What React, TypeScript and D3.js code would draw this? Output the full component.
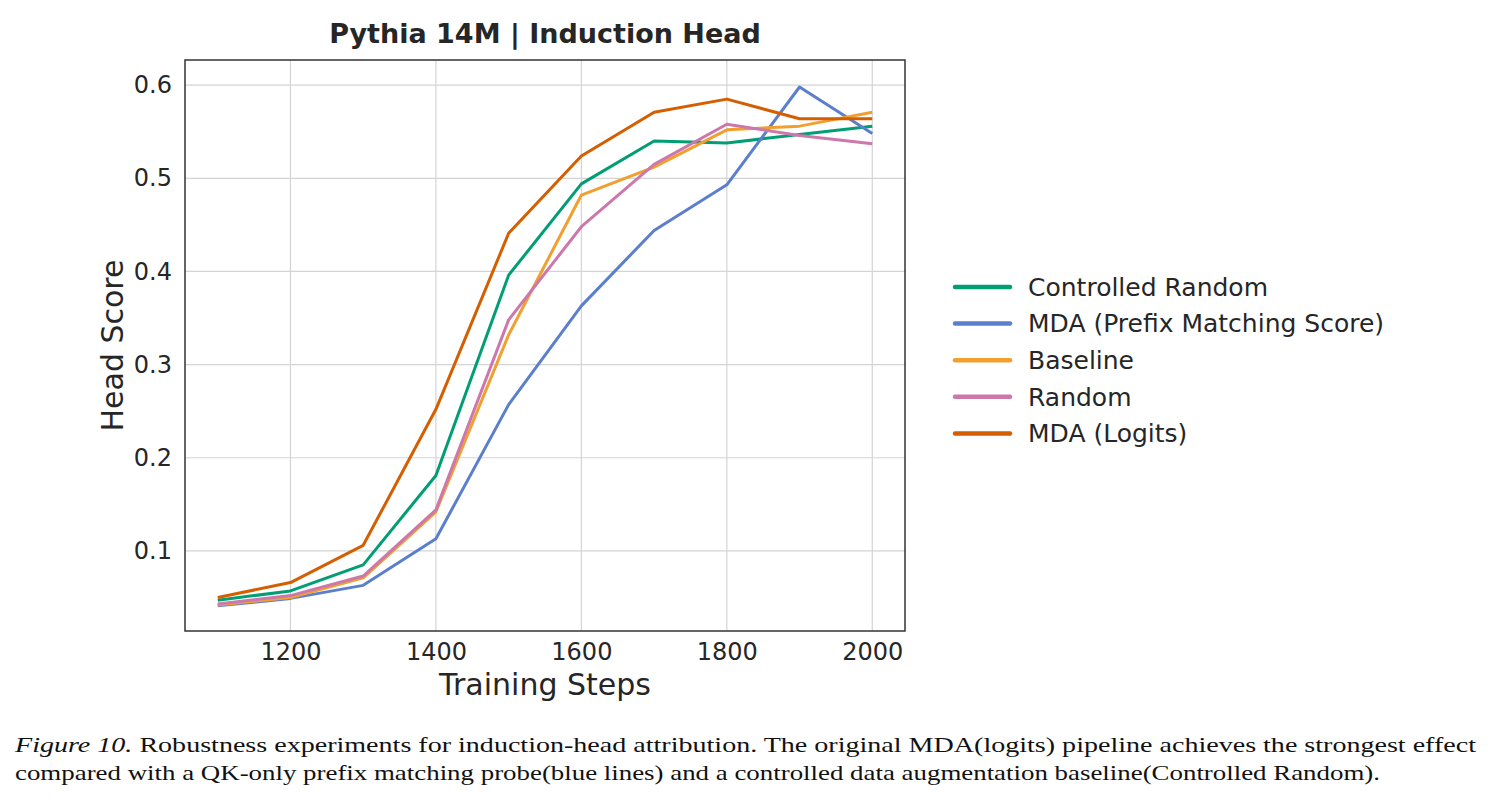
import { useEffect, useRef } from 'react';
import * as d3 from 'd3';

const W = 1491
const H = 805
// plot frame in page pixels
const margin = { top: 60, right: 586, bottom: 174, left: 185 }
const width = W - margin.left - margin.right
const height = H - margin.top - margin.bottom

const steps = [1100, 1200, 1300, 1400, 1500, 1600, 1700, 1800, 1900, 2000]
const controlledRandom = [0.047, 0.057, 0.085, 0.181, 0.396, 0.494, 0.540, 0.538, 0.547, 0.556]
const mdaPrefix = [0.041, 0.049, 0.063, 0.113, 0.257, 0.363, 0.444, 0.493, 0.598, 0.548]
const baseline = [0.042, 0.050, 0.071, 0.142, 0.332, 0.482, 0.512, 0.552, 0.556, 0.571]
const random = [0.043, 0.052, 0.073, 0.144, 0.348, 0.448, 0.515, 0.558, 0.546, 0.537]
const mdaLogits = [0.050, 0.066, 0.106, 0.252, 0.441, 0.524, 0.571, 0.585, 0.564, 0.564]

const xTicks = [1200, 1400, 1600, 1800, 2000]
const yTicks = [0.1, 0.2, 0.3, 0.4, 0.5, 0.6]

const series = [
  { name: 'Controlled Random', values: controlledRandom, color: '#029e73' },
  { name: 'MDA (Prefix Matching Score)', values: mdaPrefix, color: '#5b7fcd' },
  { name: 'Baseline', values: baseline, color: '#f1a02f' },
  { name: 'Random', values: random, color: '#cc78ac' },
  { name: 'MDA (Logits)', values: mdaLogits, color: '#d55e00' },
]

const font = 'DejaVu Sans, sans-serif'

const App = () => {
  const d3svg = useRef(null)

  useEffect(() => {
    if (!d3svg.current) return
    const root = d3.select(d3svg.current)
    root.selectAll('*').remove()

    const xScale = d3.scaleLinear().domain([1055, 2045]).range([0, width])
    const yScale = d3.scaleLinear().domain([0.014, 0.627]).range([height, 0])

    const svg = root.append('g').attr('transform', `translate(${margin.left}, ${margin.top})`)

    // grid
    svg.append('g')
      .selectAll('line')
      .data(xTicks)
      .enter()
      .append('line')
      .attr('x1', d => xScale(d)).attr('x2', d => xScale(d))
      .attr('y1', 0).attr('y2', height)
      .attr('stroke', '#d4d4d4').attr('stroke-width', 1.2)
    svg.append('g')
      .selectAll('line')
      .data(yTicks)
      .enter()
      .append('line')
      .attr('y1', d => yScale(d)).attr('y2', d => yScale(d))
      .attr('x1', 0).attr('x2', width)
      .attr('stroke', '#d4d4d4').attr('stroke-width', 1.2)

    // tick labels
    const xAxis = d3.axisBottom(xScale).tickValues(xTicks).tickSize(0).tickPadding(12).tickFormat(d3.format('d'))
    const gx = svg.append('g').attr('transform', `translate(0,${height})`).call(xAxis)
    const yAxis = d3.axisLeft(yScale).tickValues(yTicks).tickSize(0).tickPadding(13).tickFormat(d3.format('.1f'))
    const gy = svg.append('g').call(yAxis)
    ;[gx, gy].forEach(g => {
      g.select('.domain').remove()
      g.selectAll('text').attr('font-family', font).attr('font-size', 24).attr('fill', '#262626')
    })

    // lines
    const line = d3.line<number>()
      .x((_, i) => xScale(steps[i]))
      .y(d => yScale(d))
    svg.selectAll('.series')
      .data(series)
      .enter()
      .append('path')
      .attr('class', 'series')
      .attr('d', d => line(d.values))
      .attr('fill', 'none')
      .attr('stroke', d => d.color)
      .attr('stroke-width', 3)
      .attr('stroke-linejoin', 'round')
      .attr('stroke-linecap', 'butt')

    // frame
    svg.append('rect')
      .attr('width', width).attr('height', height)
      .attr('fill', 'none').attr('stroke', '#333').attr('stroke-width', 1.5)

    // title and axis labels
    svg.append('text')
      .attr('x', width / 2).attr('y', -17)
      .attr('text-anchor', 'middle')
      .attr('font-family', font).attr('font-weight', 'bold').attr('font-size', 27)
      .attr('fill', '#262626')
      .text('Pythia 14M | Induction Head')
    svg.append('text')
      .attr('x', width / 2).attr('y', height + 64)
      .attr('text-anchor', 'middle')
      .attr('font-family', font).attr('font-size', 30)
      .attr('fill', '#262626')
      .text('Training Steps')
    svg.append('text')
      .attr('transform', `translate(${-62},${height / 2}) rotate(-90)`)
      .attr('text-anchor', 'middle')
      .attr('font-family', font).attr('font-size', 30)
      .attr('fill', '#262626')
      .text('Head Score')

    // legend
    const legend = root.append('g').attr('transform', 'translate(955, 287)')
    const rows = legend.selectAll('.row')
      .data(series)
      .enter()
      .append('g')
      .attr('transform', (_, i) => `translate(0, ${i * 36.6})`)
    rows.append('line')
      .attr('x1', 0).attr('x2', 55)
      .attr('stroke', d => d.color).attr('stroke-width', 4.5).attr('stroke-linecap', 'round')
    rows.append('text')
      .attr('x', 73).attr('dy', '0.35em')
      .attr('font-family', font).attr('font-size', 25)
      .attr('fill', '#262626')
      .text(d => d.name)

    // caption
    const cap = root.append('g').attr('font-family', "'Liberation Serif', 'Times New Roman', serif").attr('font-size', 22).attr('fill', '#111')
      .style('white-space', 'pre')
    const l1 = cap.append('text').attr('x', 15).attr('y', 752).attr('textLength', 1461).attr('lengthAdjust', 'spacingAndGlyphs')
    l1.append('tspan').attr('font-style', 'italic').text('Figure 10.')
    l1.append('tspan').text('  Robustness experiments for induction-head attribution.  The original MDA(logits) pipeline achieves the strongest effect')
    cap.append('text').attr('x', 15).attr('y', 780).attr('textLength', 1365).attr('lengthAdjust', 'spacingAndGlyphs')
      .text('compared with a QK-only prefix matching probe(blue lines) and a controlled data augmentation baseline(Controlled Random).')
  }, [])

  return (
    <svg
      width={W}
      height={H}
      ref={d3svg}
      style={{ position: 'absolute', left: 0, top: 0, background: '#fff' }}
    ></svg>
  )
}

export default App;
